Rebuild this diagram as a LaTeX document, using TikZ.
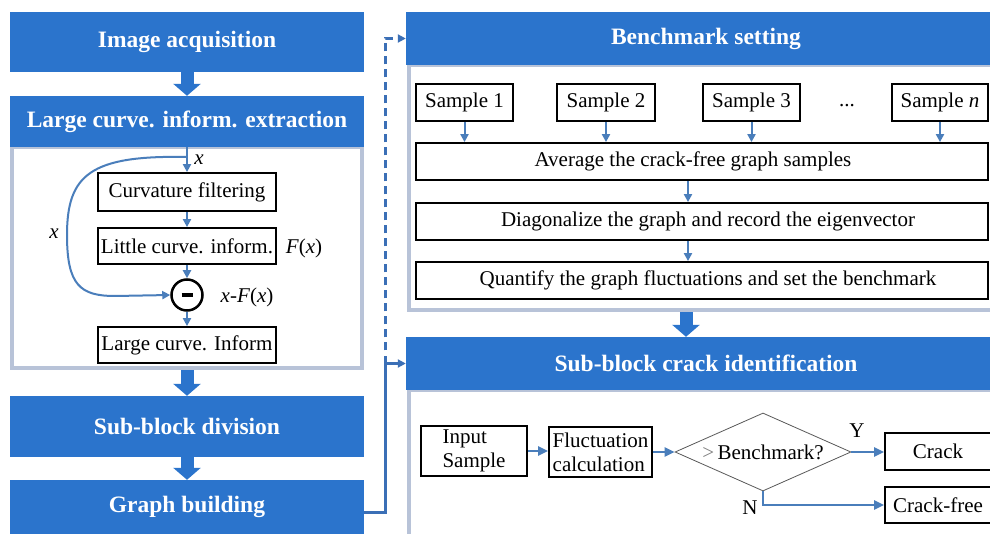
\documentclass[tikz,border=0pt]{standalone}
\usepackage{fontspec}
\setmainfont{Liberation Serif}
\usetikzlibrary{arrows.meta,shapes.geometric,calc}
\definecolor{hblue}{HTML}{2B74CC}
\definecolor{abl}{HTML}{4A7EBB}
\definecolor{pgray}{HTML}{B8C3D8}
\definecolor{cblue}{HTML}{3B6FB6}
\begin{document}
\begin{tikzpicture}[x=1pt,y=-1pt,
  hdr/.style={fill=hblue, text=white, inner sep=0pt, font=\fontsize{23.5}{26}\selectfont\bfseries},
  panel/.style={draw=pgray, line width=4pt, inner sep=0pt},
  bx/.style={draw=black, line width=1.8pt, inner sep=0pt, font=\fontsize{21}{24}\selectfont},
  lbl/.style={inner sep=0pt, font=\fontsize{21}{24}\selectfont},
  fat/.style={draw=hblue, line width=13pt, -{Triangle[length=12pt,width=27pt]}},
  ar/.style={draw=abl, line width=2pt, -{Triangle[length=8pt,width=8pt]}},
  arb/.style={draw=abl, line width=2.6pt, -{Triangle[length=10pt,width=9pt]}},
  conn/.style={draw=cblue, line width=3pt, -{Triangle[length=8pt,width=8pt]}},
]
\clip (0,0) rectangle (990,534);
\fill[white] (0,0) rectangle (990,534);

% ---------- left column ----------
\node[panel, minimum width=350pt, minimum height=221pt] (p1) at (187,257.5) {};
\node[hdr, minimum width=354pt, minimum height=60pt] (acq) at (187,42) {\raisebox{4pt}{Image acquisition}};
\node[hdr, minimum width=354pt, minimum height=51pt] (lce) at (187,121.5) {Large curve. inform. extraction};
\node[bx, minimum width=178pt, minimum height=38pt] (cf) at (187,192) {Curvature filtering};
\node[bx, minimum width=178pt, minimum height=36pt] (lci) at (187,246) {Little curve. inform.};
\node[circle, draw, line width=2.5pt, minimum size=31pt, inner sep=0pt] (mn) at (187,295) {\rule{11pt}{4.5pt}};
\node[bx, minimum width=178pt, minimum height=36pt] (lcI) at (187,345) {Large curve. Inform};
\node[hdr, minimum width=354pt, minimum height=61pt] (ssd) at (187,426.5) {Sub-block division};
\node[hdr, minimum width=354pt, minimum height=54pt] (gb) at (187,507) {\raisebox{-2pt}{Graph building}};

\node[lbl] (lx1) at (199,160) {\textit{x}};
\node[lbl] (lx2) at (54,234) {\textit{x}};
\node[lbl] (lF) at (304,248) {\textit{F}(\textit{x})};
\node[lbl] (lxF) at (247,297) {\textit{x}-\textit{F}(\textit{x})};

\draw[ar] (lce.south) -- (cf.north);
\coordinate (tap) at (187,157);
\draw[ar] (tap) .. controls (90,155) and (67,175) .. (67,235) .. controls (67,285) and (80,296) .. (115,296) -- (mn.west);
\draw[ar] (cf.south) -- (lci.north);
\draw[ar] (lci.south) -- (mn.north);
\draw[ar] (mn.south) -- (lcI.north);

\draw[fat] (acq.south) -- (lce.north);
\draw[fat] (p1.south) -- (ssd.north);
\draw[fat] (ssd.south) -- (gb.north);

% ---------- right column ----------
\node[panel, minimum width=601pt, minimum height=245.5pt] (p2) at (709.5,187.75) {};
\node[panel, minimum width=601pt, minimum height=170pt] (p3) at (709.5,475) {};
\node[hdr, minimum width=600pt, minimum height=53pt] (bench) at (706,38.5) {Benchmark setting};
\node[hdr, minimum width=600pt, minimum height=53pt] (sbc) at (706,363.5) {Sub-block crack identification};

\node[bx, minimum width=97pt, minimum height=37pt] (s1) at (464.5,102.5) {Sample 1};
\node[bx, minimum width=98pt, minimum height=37pt] (s2) at (606,102.5) {Sample 2};
\node[bx, minimum width=97pt, minimum height=37pt] (s3) at (751.5,102.5) {Sample 3};
\node[lbl] (dots) at (847,106) {...};
\node[bx, minimum width=96pt, minimum height=37pt] (sn) at (940,102.5) {\raisebox{3pt}{Sample \textit{n}}};

\node[bx, minimum width=572pt, minimum height=37pt] (avg) at (702,161.5) {Average the crack-free graph samples\hspace*{18pt}};
\node[bx, minimum width=572pt, minimum height=37pt] (diag) at (702,221.5) {\hspace*{12pt}Diagonalize the graph and record the eigenvector};
\node[bx, minimum width=572pt, minimum height=37pt] (quant) at (702,280.5) {\hspace*{12pt}Quantify the graph fluctuations and set the benchmark};

\draw[ar] (s1.south) -- (s1.south |- avg.north);
\draw[ar] (s2.south) -- (s2.south |- avg.north);
\draw[ar] (s3.south) -- (s3.south |- avg.north);
\draw[ar] (sn.south) -- (sn.south |- avg.north);
\draw[ar] ([xshift=-14pt]avg.south) -- ([xshift=-14pt]diag.north);
\draw[ar] ([xshift=-14pt]diag.south) -- ([xshift=-14pt]quant.north);

\draw[fat] (686,0 |- p2.south) -- (686,0 |- sbc.north);

\node[bx, minimum width=106pt, minimum height=50pt, align=left] (inp) at (474,451) {Input\\Sample};
\node[bx, minimum width=103pt, minimum height=50pt, align=left] (fl) at (600.5,452) {Fluctuation\\calculation};
\node[diamond, draw=gray!70!black, line width=0.8pt, aspect=2.26, minimum width=176pt, minimum height=78pt, inner sep=0pt, font=\fontsize{21}{24}\selectfont] (dm) at (763,452) {\makebox[100pt]{{\color{gray}>}\,Benchmark?}};
\node[bx, minimum width=106pt, minimum height=37pt] (cr) at (938,451.5) {Crack};
\node[bx, minimum width=106pt, minimum height=36pt] (crf) at (938,505) {Crack-free};
\node[lbl] (ly) at (857,431) {Y};
\node[lbl] (ln) at (750,508) {N};

\draw[arb] (inp.east) -- (inp.east -| fl.west);
\draw[arb] (fl.east) -- (dm.west);
\draw[arb] (dm.east) -- (dm.east -| cr.west);
\draw[arb] (dm.south) |- (crf.west);

% ---------- cross connectors ----------
\coordinate (j) at (385,363.5);
\draw[conn] ([yshift=-5pt]gb.east) -| (j) -- (sbc.west);
\draw[conn, dash pattern=on 8pt off 5pt] (j) |- (bench.west);
\end{tikzpicture}
\end{document}
